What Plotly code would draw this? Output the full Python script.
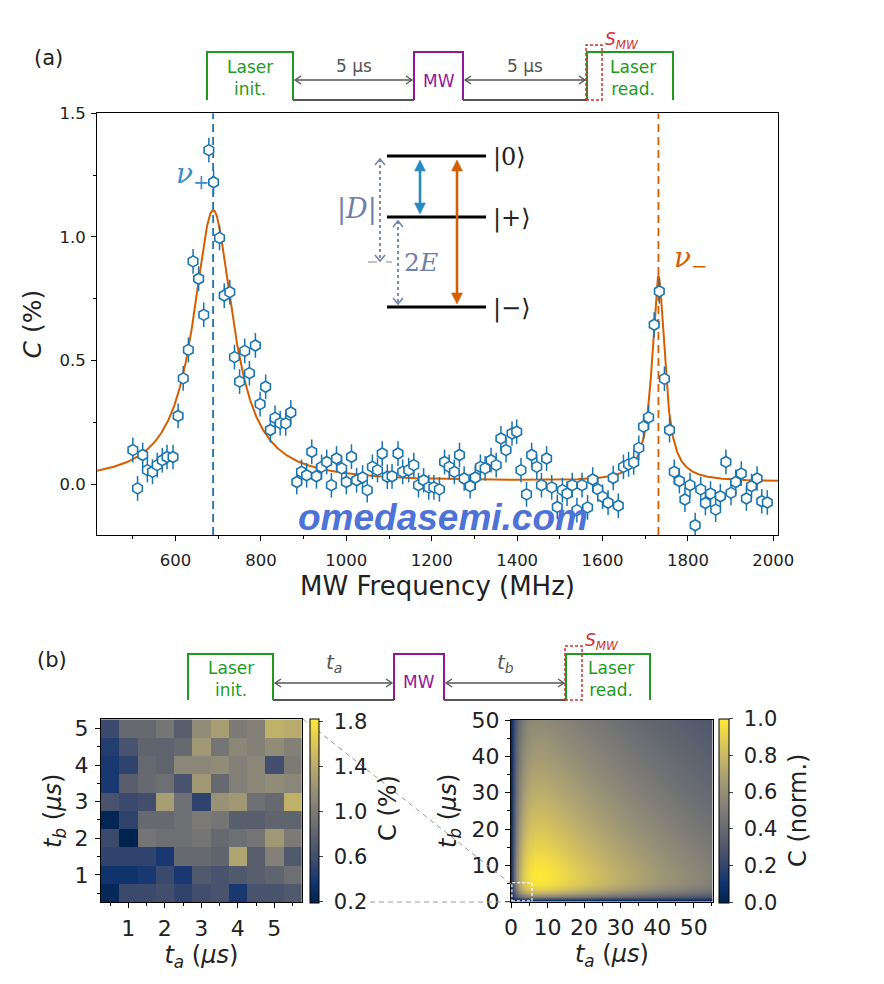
import numpy as np
import plotly.graph_objects as go

W, H = 884, 984
FONT = "DejaVu Sans"
SERIF = "DejaVu Serif"


def X(px):
    return px / W


def Y(py):
    return 1 - py / H


# ---------------- data: panel (a) ----------------
freq_mhz = [500, 511, 523, 534, 546, 557, 569, 580, 594, 606, 618, 630, 641, 654, 666, 678, 689,
            703, 714, 727, 738, 750, 762, 773, 787, 798, 811, 822, 833, 845, 858, 870, 884, 895,
            907, 919, 930, 942, 954, 965, 977, 989, 1000, 1012, 1024, 1038, 1049, 1061, 1073,
            1084, 1096, 1107, 1121, 1132, 1146, 1158, 1169, 1181, 1193, 1205, 1218, 1230, 1241,
            1253, 1265, 1276, 1290, 1302, 1314, 1325, 1339, 1351, 1362, 1374, 1388, 1399, 1409,
            1422, 1434, 1446, 1457, 1469, 1481, 1494, 1506, 1517, 1529, 1540, 1552, 1565, 1577,
            1589, 1600, 1613, 1625, 1637, 1649, 1661, 1673, 1685, 1696, 1708, 1721, 1733, 1745,
            1757, 1768, 1780, 1793, 1805, 1817, 1830, 1841, 1853, 1865, 1876, 1889, 1901, 1912,
            1925, 1937, 1949, 1962, 1973, 1986]
contrast_pct = [0.138, -0.017, 0.118, 0.057, 0.050, 0.077, 0.097, 0.110, 0.110, 0.276, 0.428,
                0.543, 0.901, 0.831, 0.685, 1.351, 1.221, 0.996, 0.763, 0.777, 0.514, 0.415,
                0.539, 0.449, 0.561, 0.324, 0.394, 0.219, 0.268, 0.247, 0.246, 0.290, 0.009,
                0.050, 0.036, 0.131, 0.032, 0.070, 0.090, -0.004, 0.104, 0.064, 0.009, 0.111,
                0.016, 0.027, -0.024, 0.070, 0.057, 0.124, 0.030, 0.032, 0.124, 0.050, 0.057,
                0.077, -0.004, 0.016, -0.013, -0.013, -0.021, 0.090, 0.070, 0.050, 0.118, 0.023,
                -0.008, 0.027, 0.070, 0.064, 0.097, 0.077, 0.185, 0.138, 0.205, 0.212, 0.057,
                -0.041, 0.118, 0.070, -0.004, 0.104, -0.013, -0.092, -0.024, -0.038, -0.004,
                -0.105, -0.004, -0.094, 0.019, -0.021, -0.051, -0.075, 0.025, -0.087, 0.070,
                0.080, 0.088, 0.147, 0.233, 0.270, 0.645, 0.780, 0.426, 0.219, 0.050, 0.013,
                -0.062, -0.004, -0.166, -0.021, -0.076, -0.038, -0.103, -0.049, 0.090, -0.035,
                0.009, 0.043, -0.058, -0.008, 0.023, -0.069, -0.074]
ERR = 0.05

# Lorentzian fit parameters
FIT_OFFSET = 0.008
NU_PLUS, AMP_PLUS, HWHM_PLUS = 688.0, 1.10, 57.0
NU_MINUS, AMP_MINUS, HWHM_MINUS = 1731.0, 0.83, 18.0

XRANGE_A = [416, 2011]
YRANGE_A = [-0.2055, 1.5]

f_fit = np.linspace(XRANGE_A[0], XRANGE_A[1], 1600)
c_fit = (FIT_OFFSET
         + AMP_PLUS / (1 + ((f_fit - NU_PLUS) / HWHM_PLUS) ** 2)
         + AMP_MINUS / (1 + ((f_fit - NU_MINUS) / HWHM_MINUS) ** 2))

# ---------------- data: panel (b) left map ----------------
ta_small = [0.5, 1.0, 1.5, 2.0, 2.5, 3.0, 3.5, 4.0, 4.5, 5.0, 5.5]
tb_small = [0.5, 1.0, 1.5, 2.0, 2.5, 3.0, 3.5, 4.0, 4.5, 5.0]
contrast_small = [
    [0.25, 0.55, 0.55, 0.60, 0.50, 0.60, 0.65, 0.40, 0.65, 0.65, 0.70],  # tb=0.5
    [0.35, 0.35, 0.40, 0.55, 0.40, 0.70, 0.65, 0.70, 0.75, 0.80, 0.90],  # tb=1.0
    [0.50, 0.50, 0.50, 0.40, 0.85, 0.85, 0.80, 1.35, 0.75, 1.05, 0.70],  # tb=1.5
    [0.55, 0.20, 0.95, 0.90, 0.90, 0.95, 0.85, 0.90, 0.95, 1.25, 1.00],  # tb=2.0
    [0.22, 0.50, 0.85, 0.85, 0.90, 1.00, 0.95, 0.75, 0.75, 0.80, 0.80],  # tb=2.5
    [0.65, 0.55, 0.60, 1.30, 0.90, 0.50, 1.20, 1.25, 0.90, 0.85, 1.45],  # tb=3.0
    [0.40, 0.75, 0.85, 0.90, 0.65, 1.25, 0.85, 1.05, 1.10, 1.15, 1.10],  # tb=3.5
    [0.40, 0.50, 0.85, 0.80, 1.10, 1.10, 1.15, 1.05, 1.10, 0.60, 1.00],  # tb=4.0
    [0.45, 0.65, 0.80, 0.80, 0.85, 1.25, 0.95, 1.10, 1.05, 1.15, 1.05],  # tb=4.5
    [0.55, 0.85, 0.85, 0.95, 0.75, 1.15, 1.30, 1.00, 1.05, 1.45, 1.40],  # tb=5.0
]
cbar_left_ticks = [0.2, 0.6, 1.0, 1.4, 1.8]
cbar_right_ticks = [0.0, 0.2, 0.4, 0.6, 0.8, 1.0]

# ---------------- panel (b) right map: model parameters ----------------
TA_RISE, TA_DECAY = 2.2, 70.0
TB_RISE, TB_DECAY = 1.75, 75.0
ta_model = np.arange(0, 55.3, 0.2)
tb_model = np.arange(0, 50.1, 0.2)
fa = np.exp(-ta_model / TA_DECAY) - np.exp(-ta_model / TA_RISE)
fb = np.exp(-tb_model / TB_DECAY) - np.exp(-tb_model / TB_RISE)
z_model = np.outer(fb, fa)
z_model = z_model / z_model.max()

BLUE = "#1a74b0"
ORANGE = "#d55e00"
GREEN = "#1e9a1e"
PURPLE = "#93179b"
RED = "#cc3333"
GRAY = "#555555"
SLATE = "#6f80a8"
INK = "#222222"
NBSP = "\u00a0"

fig = go.Figure()

fig.add_trace(go.Scatter(x=f_fit, y=c_fit, mode="lines", line=dict(color=ORANGE, width=2),
                         xaxis="x", yaxis="y", hoverinfo="skip"))
fig.add_trace(go.Scatter(x=freq_mhz, y=contrast_pct, mode="markers",
                         marker=dict(symbol="hexagon", size=11, color="white",
                                     line=dict(color=BLUE, width=1.6)),
                         error_y=dict(type="constant", value=ERR, color=BLUE, thickness=1.5, width=0),
                         xaxis="x", yaxis="y"))

cb_common = dict(yanchor="top", lenmode="pixels", len=184, thicknessmode="pixels",
                 ticks="outside", ticklen=4, tickfont=dict(size=21, family=FONT, color=INK),
                 outlinewidth=1, outlinecolor="black", xpad=0, ypad=0)
fig.add_trace(go.Heatmap(x=ta_small, y=tb_small, z=contrast_small, colorscale="Cividis",
                         zmin=0.19, zmax=1.83, xaxis="x2", yaxis="y2",
                         colorbar=dict(x=X(309.5), xanchor="left", y=Y(718.5), thickness=9,
                                       tickvals=cbar_left_ticks,
                                       ticktext=[NBSP + f"{v:.1f}" for v in cbar_left_ticks], **cb_common)))
fig.add_trace(go.Heatmap(x=ta_model, y=tb_model, z=z_model, colorscale="Cividis", zmin=0, zmax=1,
                         xaxis="x3", yaxis="y3",
                         colorbar=dict(x=X(718.5), xanchor="left", y=Y(718.5), thickness=9.5,
                                       tickvals=cbar_right_ticks,
                                       ticktext=[NBSP + f"{v:.1f}" for v in cbar_right_ticks], **cb_common)))

axis_common = dict(showline=True, mirror=True, linecolor="black", linewidth=1, ticks="outside",
                   ticklen=5, tickwidth=1, tickcolor="black", showgrid=False, zeroline=False,
                   automargin=False)
TA_LABEL = "<i>t</i><sub><i>a</i></sub> (<i>μs</i>)"
TB_LABEL = "<i>t</i><sub><i>b</i></sub> (<i>μs</i>)"

fig.update_layout(
    width=W, height=H, margin=dict(l=0, r=0, t=0, b=0, pad=0, autoexpand=False),
    paper_bgcolor="white", plot_bgcolor="white", showlegend=False,
    font=dict(family=FONT, color=INK),
    xaxis=dict(domain=[X(97), X(778)], range=XRANGE_A, anchor="y", dtick=200, tick0=0,
               tickfont=dict(size=16.5), ticklabelstandoff=5,
               minor=dict(ticks="outside", ticklen=3, dtick=100, tick0=0),
               title=dict(text="MW Frequency (MHz)", font=dict(size=26), standoff=8), **axis_common),
    yaxis=dict(domain=[Y(535), Y(113.3)], range=YRANGE_A, anchor="x", dtick=0.5, tick0=0,
               tickformat=".1f", tickfont=dict(size=16.5), ticklabelstandoff=2,
               minor=dict(ticks="outside", ticklen=3, dtick=0.25, tick0=0),
               title=dict(text="<i>C</i> (%)", font=dict(size=25), standoff=10), **axis_common),
    xaxis2=dict(domain=[X(101), X(301.7)], range=[0.25, 5.75], anchor="y2", dtick=1, tick0=0,
                tickfont=dict(size=22), ticklabelstandoff=1,
                minor=dict(ticks="outside", ticklen=3, dtick=0.5, tick0=0),
                title=dict(text=TA_LABEL, font=dict(size=24), standoff=4), **axis_common),
    yaxis2=dict(domain=[Y(902.3), Y(719.3)], range=[0.25, 5.25], anchor="x2", dtick=1, tick0=0,
                tickfont=dict(size=22), ticklabelstandoff=2,
                minor=dict(ticks="outside", ticklen=3, dtick=0.5, tick0=0),
                title=dict(text=TB_LABEL, font=dict(size=24), standoff=6), **axis_common),
    xaxis3=dict(domain=[X(511), X(712.7)], range=[0, 55.2], anchor="y3", dtick=10, tick0=0,
                tickfont=dict(size=22), ticklabelstandoff=1,
                minor=dict(ticks="outside", ticklen=3, dtick=5, tick0=0),
                title=dict(text=TA_LABEL, font=dict(size=24), standoff=4), **axis_common),
    yaxis3=dict(domain=[Y(901.7), Y(720)], range=[0, 50], anchor="x3", dtick=10, tick0=0,
                tickfont=dict(size=22), ticklabelstandoff=1,
                minor=dict(ticks="outside", ticklen=3, dtick=5, tick0=0),
                title=dict(text=TB_LABEL, font=dict(size=24), standoff=8), **axis_common),
)

shapes = []
annotations = []


def pline(x0, y0, x1, y1, color, width, dash="solid"):
    shapes.append(dict(type="line", xref="paper", yref="paper", x0=X(x0), y0=Y(y0), x1=X(x1), y1=Y(y1),
                       line=dict(color=color, width=width, dash=dash)))


def ppath(pts, color, width, dash="solid", fill=None, close=False):
    d = "M " + " L ".join(f"{X(a):.5f},{Y(b):.5f}" for a, b in pts)
    if close:
        d += " Z"
    s = dict(type="path", xref="paper", yref="paper", path=d,
             line=dict(color=color, width=width, dash=dash))
    if fill:
        s["fillcolor"] = fill
    shapes.append(s)


def ptext(x, y, s, size, color, family=FONT, xanchor="center", yanchor="middle", angle=0):
    annotations.append(dict(x=X(x), y=Y(y), xref="paper", yref="paper", text=s, showarrow=False,
                            font=dict(size=size, color=color, family=family), xanchor=xanchor,
                            yanchor=yanchor, textangle=angle))


def double_arrow(x0, y0, x1, y1, color, width, hl, hw, filled):
    v = np.array([x1 - x0, y1 - y0], float)
    u = v / np.hypot(*v)
    n = np.array([-u[1], u[0]])
    p0 = np.array([x0, y0], float)
    p1 = np.array([x1, y1], float)
    if filled:
        pline(*(p0 + u * hl * 0.8), *(p1 - u * hl * 0.8), color, width)
    else:
        pline(x0, y0, x1, y1, color, width)
    for tip, d in ((p1, u), (p0, -u)):
        a = tip - d * hl + n * hw
        b = tip - d * hl - n * hw
        if filled:
            ppath([tuple(a), tuple(tip), tuple(b)], color, 0.5, fill=color, close=True)
        else:
            ppath([tuple(a), tuple(tip), tuple(b)], color, width)


# vertical dashed lines at resonances (data coords)
shapes.append(dict(type="line", xref="x", yref="y", x0=NU_PLUS, x1=NU_PLUS, y0=YRANGE_A[0], y1=YRANGE_A[1],
                   line=dict(color=BLUE, width=1.8, dash="8px,5px"), layer="below"))
shapes.append(dict(type="line", xref="x", yref="y", x0=NU_MINUS, x1=NU_MINUS, y0=YRANGE_A[0], y1=YRANGE_A[1],
                   line=dict(color=ORANGE, width=1.8, dash="8px,5px"), layer="below"))


def pulse_seq(top, base, li, mw, lr, arrow_y, lab1, lab2, lab_size, smw, smw_top, lab_y):
    pline(li[1], base, mw[0], base, GRAY, 1.8)
    pline(mw[1], base, lr[0], base, GRAY, 1.8)
    ppath([(li[0], base), (li[0], top), (li[1], top), (li[1], base)], GREEN, 2)
    ppath([(mw[0], base), (mw[0], top), (mw[1], top), (mw[1], base)], PURPLE, 2)
    ppath([(lr[0], base), (lr[0], top), (lr[1], top), (lr[1], base)], GREEN, 2)
    shapes.append(dict(type="rect", xref="paper", yref="paper", x0=X(smw[0]), x1=X(smw[1]),
                       y0=Y(base), y1=Y(smw_top), line=dict(color=RED, width=1.5, dash="3px,2px")))
    double_arrow(li[1] + 2, arrow_y, mw[0] - 2, arrow_y, GRAY, 1.3, 6, 4, False)
    double_arrow(mw[1] + 2, arrow_y, lr[0] - 2, arrow_y, GRAY, 1.3, 6, 4, False)
    ptext((li[1] + mw[0]) / 2, lab_y, lab1, lab_size, GRAY)
    ptext((mw[1] + lr[0]) / 2, lab_y, lab2, lab_size, GRAY)
    ptext((li[0] + li[1]) / 2, (top + base) / 2 + 2, "Laser<br>init.", 17, GREEN)
    ptext((mw[0] + mw[1]) / 2, (top + base) / 2 + 5, "MW", 17, PURPLE)
    ptext((lr[0] + lr[1]) / 2 + 3, (top + base) / 2 + 2, "Laser<br>read.", 17, GREEN)
    ptext(smw[1] + 1, smw_top - 5, "<i>S<sub>MW</sub></i>", 17, RED, xanchor="left")


pulse_seq(52, 100, (207, 293), (414, 463), (587, 673), 80, "5 μs", "5 μs", 17, (586, 602), 45, 66)
pulse_seq(654, 700, (188, 273), (394, 444), (566, 650), 683,
          "<i>t<sub>a</sub></i>", "<i>t<sub>b</sub></i>", 20, (565, 582), 646, 663)

ptext(48, 58, "(a)", 21, INK)
ptext(52, 660, "(b)", 21, INK)

# ---- energy level inset ----
for yl in (156, 217, 307):
    pline(387, yl, 486, yl, "black", 3)
ptext(491, 157, "|0⟩", 24, INK, family=SERIF, xanchor="left")
ptext(491, 218, "|+⟩", 24, INK, family=SERIF, xanchor="left")
ptext(491, 308, "|−⟩", 24, INK, family=SERIF, xanchor="left")
double_arrow(420, 160, 420, 214, "#2a8ac0", 2.6, 11, 5.5, True)
double_arrow(457, 160, 457, 304, ORANGE, 2.6, 11, 5.5, True)
# dotted arrows
pline(380, 159, 380, 261, SLATE, 1.8, "dot")
ppath([(375, 165), (380, 159), (385, 165)], SLATE, 1.5)
ppath([(375, 255), (380, 261), (385, 255)], SLATE, 1.5)
pline(368, 262, 392, 262, "#888888", 1.2, "dash")
pline(398, 221, 398, 304, SLATE, 1.8, "dot")
ppath([(393, 227), (398, 221), (403, 227)], SLATE, 1.5)
ppath([(393, 298), (398, 304), (403, 298)], SLATE, 1.5)
ptext(357, 209, "|<i>D</i>|", 27, SLATE, family=SERIF)
ptext(421, 262, "2<i>E</i>", 25, SLATE, family=SERIF)

ptext(192, 176, "<i>ν</i><sub>+</sub>", 28, "#3a8fc4", family=SERIF)
ptext(690, 260, "<i>ν</i><sub>−</sub>", 28, ORANGE, family=SERIF)

# colorbar titles
ptext(388, 808, "C (%)", 24, INK, angle=-90)
ptext(798, 811, "C (norm.)", 24, INK, angle=-90)

# zoom box & connector lines
shapes.append(dict(type="rect", xref="x3", yref="y3", x0=0.25, x1=5.75, y0=0.25, y1=5.25,
                   line=dict(color="white", width=1.2, dash="3px,2px")))
pline(303, 719, 511, 884, "#9a9a9a", 1.0, "5px,4px")
pline(370, 902, 511, 902, "#9a9a9a", 1.0, "5px,4px")

# watermark
ptext(443, 517, "<b><i>omedasemi.com</i></b>", 37, "#4d72d8", family="Liberation Sans")

fig.update_layout(shapes=shapes, annotations=annotations)
fig.write_html("out.html")
